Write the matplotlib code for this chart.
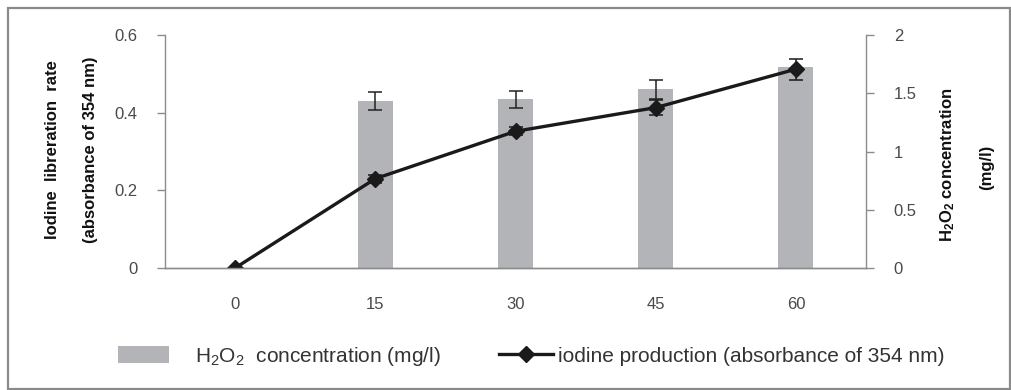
import matplotlib
matplotlib.use('Agg')
import matplotlib.pyplot as plt
from matplotlib.patches import Rectangle, Patch
from matplotlib.lines import Line2D

plt.rcParams['font.family'] = ['Liberation Sans', 'DejaVu Sans']
plt.rcParams['mathtext.default'] = 'regular'

times = ['0', '15', '30', '45', '60']
iodine = [0.0, 0.230, 0.352, 0.413, 0.512]
iodine_err = [0.0, 0.010, 0.010, 0.020, 0.027]
h2o2 = [0.0, 1.436, 1.448, 1.534, 1.723]
h2o2_err = [0.0, 0.078, 0.073, 0.080, 0.0]

pos = list(range(len(times)))
grey = '#b3b4b8'
spine_col = '#8c8c8c'
tick_col = '#4a4a4a'

fig = plt.figure(figsize=(10.11, 3.9), dpi=100)
ax = fig.add_axes([165 / 1011, 1 - 268 / 390, (866 - 165) / 1011, (268 - 35) / 390])
ax2 = ax.twinx()
ax.set_zorder(ax2.get_zorder() + 1)
ax.patch.set_visible(False)

# bars on right axis
ax2.bar(pos, h2o2, width=0.25, color=grey, zorder=1)
ax2.errorbar(pos[1:4], h2o2[1:4], yerr=h2o2_err[1:4], fmt='none', ecolor='#222222',
             elinewidth=1.1, capsize=5, capthick=1.1, zorder=2)
ax2.set_ylim(0, 2)
ax2.set_yticks([0, 0.5, 1, 1.5, 2])
ax2.set_yticklabels(['0', '0.5', '1', '1.5', '2'])

# line on left axis
ax.errorbar(pos, iodine, yerr=iodine_err, color='#1a1a1a', lw=2.4, marker='D',
            markersize=8, ecolor='#1a1a1a', elinewidth=1.1, capsize=5, capthick=1.1)
ax.set_ylim(0, 0.6)
ax.set_yticks([0, 0.2, 0.4, 0.6])
ax.set_yticklabels(['0', '0.2', '0.4', '0.6'])
ax.set_xlim(-0.5, len(times) - 0.5)
ax.set_xticks(pos)
ax.set_xticklabels(times)

for a in (ax, ax2):
    a.spines['top'].set_visible(False)
    for s in ('left', 'right', 'bottom'):
        a.spines[s].set_color(spine_col)
        a.spines[s].set_linewidth(1.0)
ax.spines['right'].set_visible(False)
ax2.spines['left'].set_visible(False)
ax.tick_params(axis='y', direction='out', length=6, width=1, color=spine_col,
               labelsize=12, labelcolor=tick_col, pad=14)
ax.tick_params(axis='x', length=0, labelsize=12, labelcolor=tick_col, pad=21)
ax2.tick_params(axis='y', direction='out', length=6, width=1, color=spine_col,
                labelsize=12, labelcolor=tick_col, pad=14)

# axis titles
fig.text(53 / 1011, 1 - 150 / 390, 'Iodine  libreration  rate', rotation=90,
         ha='center', va='center', fontsize=12, fontweight='bold', color='#111111')
fig.text(90 / 1011, 1 - 150 / 390, '(absorbance of 354 nm)', rotation=90,
         ha='center', va='center', fontsize=12, fontweight='bold', color='#111111')
fig.text(948 / 1011, 1 - 165 / 390, 'H$_2$O$_2$ concentration', rotation=90,
         ha='center', va='center', fontsize=12, fontweight='bold', color='#111111')
fig.text(987 / 1011, 1 - 167 / 390, '(mg/l)', rotation=90,
         ha='center', va='center', fontsize=12, fontweight='bold', color='#111111')

# legends
leg_font = {'family': ['Liberation Sans Narrow', 'Liberation Sans'], 'size': 15}
h1 = Patch(facecolor=grey, edgecolor='none')
l1 = fig.legend([h1], ['H$_2$O$_2$  concentration (mg/l)'], loc='center left',
                bbox_to_anchor=(118 / 1011, 1 - 356 / 390), frameon=False, prop=leg_font,
                handlelength=2.45, handleheight=0.9, handletextpad=1.25,
                borderpad=0, borderaxespad=0)
h2 = Line2D([], [], color='#1a1a1a', lw=2.4, marker='D', markersize=8)
l2 = fig.legend([h2], ['iodine production (absorbance of 354 nm)'], loc='center left',
                bbox_to_anchor=(499 / 1011, 1 - 356 / 390), frameon=False, prop=leg_font,
                handlelength=2.6, handletextpad=0.25, borderpad=0, borderaxespad=0)
for lg in (l1, l2):
    for t in lg.get_texts():
        t.set_color('#333333')

# outer frame
fig.patches.append(Rectangle((8 / 1011, 1 / 390), 1002 / 1011, 381 / 390,
                             transform=fig.transFigure, fill=False,
                             edgecolor='#8a8a8a', linewidth=1.6))

fig.savefig('out.png', dpi=100)
